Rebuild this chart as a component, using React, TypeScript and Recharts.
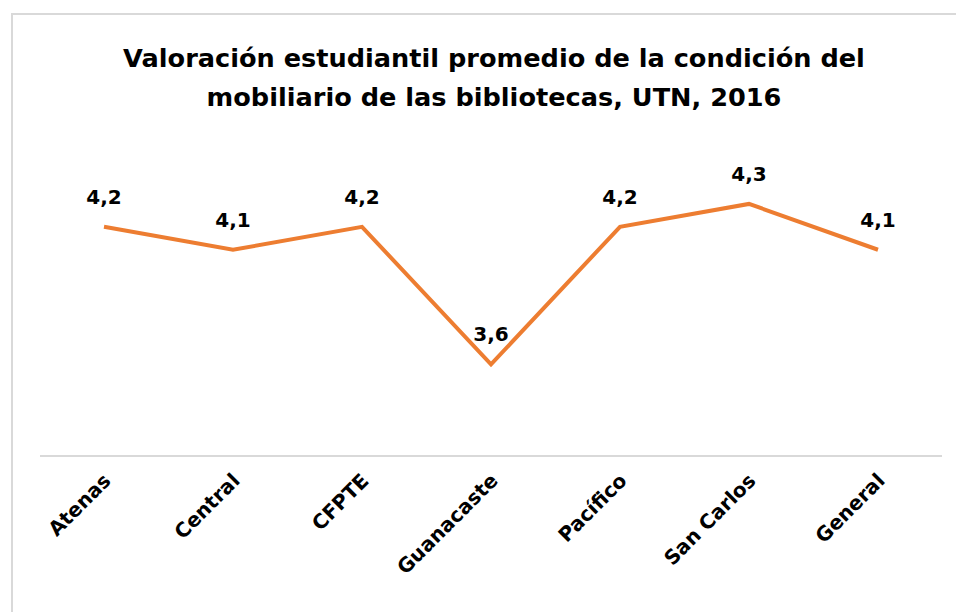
import { LineChart, Line, XAxis, YAxis, LabelList } from "recharts";

const sedes = ["Atenas", "Central", "CFPTE", "Guanacaste", "Pacífico", "San Carlos", "General"];
const promedio = [4.2, 4.1, 4.2, 3.6, 4.2, 4.3, 4.1];

const data = sedes.map((sede, i) => ({ sede, valor: promedio[i] }));

const FONT = "'Century Gothic', 'DejaVu Sans', sans-serif";

const AxisTick = ({ x, y, payload }: any) => (
  <text
    x={x + 8}
    y={y + 18}
    transform={`rotate(-45, ${x + 8}, ${y + 18})`}
    textAnchor="end"
    fontFamily={FONT}
    fontWeight="bold"
    fontSize={20}
    fill="#000"
  >
    {payload.value}
  </text>
);

const ValueLabel = ({ x, y, value }: any) => (
  <text
    x={x}
    y={y - 23}
    textAnchor="middle"
    fontFamily={FONT}
    fontWeight="bold"
    fontSize={20}
    fill="#000"
  >
    {String(value).replace(".", ",")}
  </text>
);

export default function App() {
  return (
    <div style={{ position: "fixed", inset: 0, overflow: "hidden", background: "#fff" }}>
      <div
        style={{
          position: "absolute",
          left: 11,
          top: 13,
          width: 962,
          height: 620,
          borderLeft: "2px solid #d9d9d9",
          borderTop: "2px solid #d9d9d9",
          boxSizing: "border-box",
        }}
      >
        <div
          style={{
            position: "absolute",
            left: 0,
            width: 962,
            top: 24,
            textAlign: "center",
            fontFamily: FONT,
            fontWeight: "bold",
            fontSize: 25.6,
            lineHeight: "39px",
            color: "#000",
          }}
        >
          Valoración estudiantil promedio de la condición del
          <br />
          mobiliario de las bibliotecas, UTN, 2016
        </div>
        <div style={{ position: "absolute", left: -2, top: -2 }}>
          <LineChart
            width={962}
            height={620}
            data={data}
            margin={{ top: 168, right: 31, bottom: 77, left: 29 }}
          >
            <XAxis
              dataKey="sede"
              height={100}
              axisLine={{ stroke: "#d9d9d9", strokeWidth: 2 }}
              tickLine={false}
              tick={<AxisTick />}
              interval={0}
              padding={{ left: 64, right: 64 }}
            />
            <YAxis hide domain={[3.2, 4.4]} />
            <Line
              type="linear"
              dataKey="valor"
              stroke="#ED7D31"
              strokeWidth={4}
              dot={false}
              isAnimationActive={false}
            >
              <LabelList dataKey="valor" content={<ValueLabel />} />
            </Line>
          </LineChart>
        </div>
      </div>
    </div>
  );
}
